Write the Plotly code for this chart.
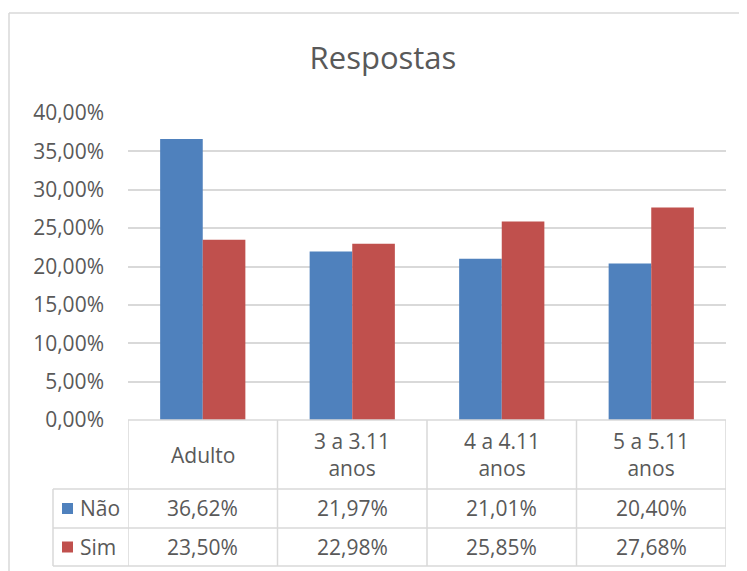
import plotly.graph_objects as go

# ---- data ----
categories = ["Adulto", "3 a 3.11 anos", "4 a 4.11 anos", "5 a 5.11 anos"]
series_names = ["Não", "Sim"]
nao = [0.3662, 0.2197, 0.2101, 0.2040]
sim = [0.2350, 0.2298, 0.2585, 0.2768]
y_ticks = [0, 0.05, 0.10, 0.15, 0.20, 0.25, 0.30, 0.35, 0.40]

BLUE = "#4F81BD"
RED = "#C0504D"
TXT = "#595959"
GRID = "#D9D9D9"
FONT = "Open Sans"
FS = 21

OFF = 8  # page body margin
W, H = 747, 571
L = 128 - OFF
T = 113 - OFF
R = W - (726 - OFF)
B = H - (420 - OFF)
PW = W - L - R
PH = H - T - B


def px_x(X):
    return (X - OFF - L) / PW


def px_y(Y):
    return (H - B - (Y - OFF)) / PH


def fmt(v):
    return f"{v*100:.2f}%".replace(".", ",")


fig = go.Figure()
fig.add_trace(go.Bar(x=categories, y=nao, name=series_names[0], marker_color=BLUE,
                     marker_line_width=0))
fig.add_trace(go.Bar(x=categories, y=sim, name=series_names[1], marker_color=RED,
                     marker_line_width=0))

shapes = []
annotations = []
line = dict(color=GRID, width=1.5)

# chart frame (top and left edges)
shapes.append(dict(type="line", xref="paper", yref="paper",
                   x0=px_x(9), x1=px_x(780), y0=px_y(13), y1=px_y(13), line=line))
shapes.append(dict(type="line", xref="paper", yref="paper",
                   x0=px_x(9), x1=px_x(9), y0=px_y(13), y1=px_y(620), line=line))

# data table grid
y_top, y_cat, y_r1, y_r2 = 0.0, px_y(489), px_y(528), px_y(566)
x_tab_left = px_x(53)
n = len(categories)
shapes.append(dict(type="line", xref="x", yref="paper", x0=-0.5, x1=n - 0.5,
                   y0=y_top, y1=y_top, line=line))
for yy in (y_cat, y_r1, y_r2):
    shapes.append(dict(type="line", xref="paper", yref="paper", x0=x_tab_left, x1=1,
                       y0=yy, y1=yy, line=line))
for i in range(n + 1):
    shapes.append(dict(type="line", xref="x", yref="paper", x0=i - 0.5, x1=i - 0.5,
                       y0=y_top, y1=y_r2, line=line))
shapes.append(dict(type="line", xref="paper", yref="paper", x0=x_tab_left, x1=x_tab_left,
                   y0=y_cat, y1=y_r2, line=line))

# category labels
for c in categories:
    annotations.append(dict(x=c, xref="x", y=(y_top + y_cat) / 2, yref="paper",
                            text=c.replace(" anos", "<br>anos"), showarrow=False,
                            font=dict(size=FS, color=TXT, family=FONT),
                            xanchor="center", yanchor="middle"))

# value rows with legend keys
for (name, vals, col, yc) in ((series_names[0], nao, BLUE, (y_cat + y_r1) / 2),
                              (series_names[1], sim, RED, (y_r1 + y_r2) / 2)):
    half = 5.5 / PH
    shapes.append(dict(type="rect", xref="paper", yref="paper",
                       x0=px_x(62), x1=px_x(73), y0=yc - half, y1=yc + half,
                       fillcolor=col, line=dict(width=0)))
    annotations.append(dict(x=px_x(78), xref="paper", y=yc, yref="paper", text=name,
                            showarrow=False, xanchor="left", yanchor="middle",
                            font=dict(size=FS, color=TXT, family=FONT)))
    for c, v in zip(categories, vals):
        annotations.append(dict(x=c, xref="x", y=yc, yref="paper", text=fmt(v),
                                showarrow=False, xanchor="center", yanchor="middle",
                                font=dict(size=FS, color=TXT, family=FONT)))

fig.update_layout(
    width=W, height=H,
    margin=dict(l=L, r=R, t=T, b=B, autoexpand=False),
    paper_bgcolor="white", plot_bgcolor="white",
    separators=",.",
    barmode="group", bargap=0.43, bargroupgap=0,
    showlegend=False,
    title=dict(text="Respostas", x=(383 - OFF) / W, xref="container", xanchor="center",
               y=1 - (58 - OFF) / H, yref="container", yanchor="middle",
               font=dict(size=31, color=TXT, family=FONT)),
    font=dict(family=FONT, color=TXT),
    xaxis=dict(type="category", range=[-0.5, n - 0.5], showticklabels=False,
               showgrid=False, zeroline=False, showline=False, ticks=""),
    yaxis=dict(range=[0, 0.4], tickvals=y_ticks, tickformat=".2%",
               showgrid=True, gridcolor=GRID, gridwidth=1.5, zeroline=False,
               showline=False, ticks="", ticklabelstandoff=23,
               tickfont=dict(size=FS, color=TXT, family=FONT)),
    shapes=shapes, annotations=annotations,
)

fig.write_html("out.html")
